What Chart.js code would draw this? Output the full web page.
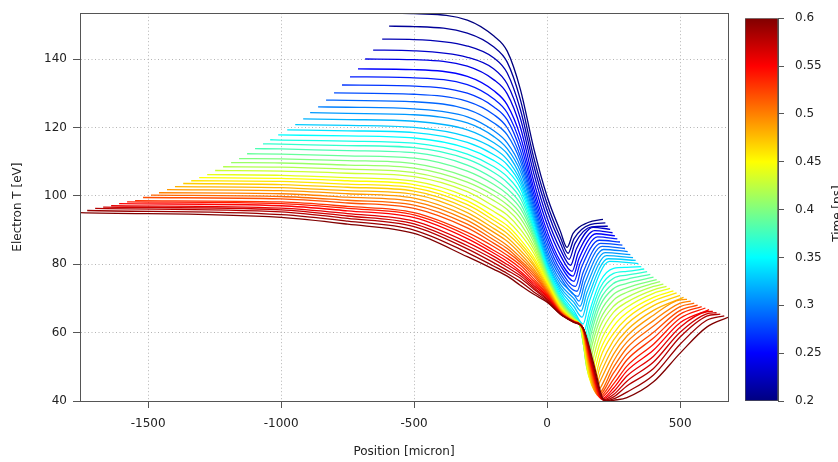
<!DOCTYPE html>
<html>
<head>
<meta charset="utf-8">
<title>Electron temperature profiles</title>
<script src="https://cdn.jsdelivr.net/npm/chart.js@4/dist/chart.umd.min.js"></script>
<style>
  html, body { margin: 0; padding: 0; background: #fff; overflow: hidden; }
  #main { position: absolute; left: 0; top: 0; }
  #bar { position: absolute; left: 730px; top: 0; }
</style>
</head>
<body>
<canvas id="main" width="838" height="462"></canvas>
<canvas id="bar" width="120" height="462"></canvas>
<script>
// Electron temperature profiles, one curve per output time, coloured by time.
const _ = null;

const times = [
  0.20, 0.21, 0.22, 0.23, 0.24, 0.25, 0.26, 0.27, 0.28, 0.29,
  0.30, 0.31, 0.32, 0.33, 0.34, 0.35, 0.36, 0.37, 0.38, 0.39,
  0.40, 0.41, 0.42, 0.43, 0.44, 0.45, 0.46, 0.47, 0.48, 0.49,
  0.50, 0.51, 0.52, 0.53, 0.54, 0.55, 0.56, 0.57, 0.58, 0.59,
  0.60,
];

// left end of each profile
const startX = [
  -564, -594, -620, -654, -684, -711, -741, -771, -801, -831,
  -861, -891, -917, -947, -977, -1011, -1041, -1068, -1098, -1128,
  -1158, -1188, -1218, -1248, -1278, -1308, -1338, -1368, -1399, -1429,
  -1459, -1489, -1519, -1549, -1579, -1609, -1639, -1669, -1699, -1729,
  -1756,
];
const startY = [
  153.4, 149.6, 145.8, 142.6, 140.0, 137.1, 134.8, 132.4, 130.1, 128.0,
  126.0, 124.3, 122.5, 120.8, 119.3, 117.8, 116.4, 115.2, 113.8, 112.3,
  110.9, 109.7, 108.5, 107.4, 106.2, 105.3, 104.4, 103.6, 102.7, 101.8,
  100.9, 100.2, 99.5, 98.6, 98.2, 97.7, 97.1, 96.7, 96.3, 95.7,
  95.1,
];

// temperature read at fixed positions (micron)
const yAtM1000 = [
  _, _, _, _, _, _, _, _, _, _,
  _, _, _, _, _, _, 116.3, 115.1, 113.7, 112.2,
  110.8, 109.6, 108.4, 107.2, 106.0, 105.1, 104.2, 103.3, 102.4, 101.5,
  100.6, 99.8, 99.1, 98.2, 97.7, 97.1, 96.4, 95.9, 95.3, 94.5,
  93.7,
];
const yAtM750 = [
  _, _, _, _, _, _, _, _, _, 127.9,
  125.9, 124.1, 122.3, 120.6, 119.0, 117.5, 116.0, 114.7, 113.2, 111.7,
  110.3, 109.0, 107.8, 106.6, 105.3, 104.4, 103.4, 102.5, 101.5, 100.6,
  99.6, 98.7, 97.9, 96.9, 96.3, 95.6, 94.8, 94.1, 93.4, 92.6,
  91.7,
];
const yAtM500 = [
  153.3, 149.5, 145.7, 142.4, 139.8, 136.9, 134.5, 132.1, 129.7, 127.5,
  125.4, 123.7, 121.8, 120.0, 118.5, 116.9, 115.4, 114.1, 112.6, 111.0,
  109.4, 108.1, 106.8, 105.6, 104.3, 103.3, 102.3, 101.4, 100.4, 99.3,
  98.3, 97.3, 96.3, 95.1, 94.4, 93.6, 92.6, 91.8, 91.0, 90.0,
  89.0,
];
const yAtM300 = [
  151.4, 147.6, 143.8, 140.5, 137.9, 134.9, 132.5, 130.0, 127.6, 125.3,
  123.1, 121.3, 119.3, 117.3, 115.6, 113.9, 112.2, 110.7, 109.0, 107.2,
  105.4, 104.0, 102.5, 101.2, 99.7, 98.5, 97.4, 96.3, 95.1, 93.9,
  92.8, 91.7, 90.6, 89.3, 88.4, 87.5, 86.4, 85.4, 84.5, 83.4,
  82.2,
];
const yAtM200 = [
  146.7, 143.5, 140.3, 137.1, 133.9, 130.7, 128.3, 126.0, 123.7, 121.3,
  119.0, 117.3, 115.5, 113.8, 112.0, 110.3, 108.5, 106.8, 105.0, 103.3,
  101.5, 100.1, 98.6, 96.9, 95.4, 93.9, 92.8, 91.6, 90.4, 89.3,
  88.1, 87.1, 86.1, 85.1, 84.0, 83.2, 82.3, 81.4, 80.4, 79.4,
  78.5,
];
const yAtM150 = [
  142.3, 139.1, 135.9, 132.7, 129.8, 126.6, 124.3, 122.2, 119.9, 117.8,
  115.5, 113.8, 112.3, 110.6, 109.1, 107.4, 105.6, 103.9, 102.1, 100.5,
  98.9, 97.4, 96.0, 94.4, 92.8, 91.3, 90.2, 89.0, 87.8, 86.7,
  85.5, 84.6, 83.6, 82.6, 81.7, 80.8, 79.9, 79.1, 78.2, 77.3,
  76.5,
];
const yAtM100 = [
  131.0, 128.0, 125.1, 122.5, 119.9, 117.3, 115.2, 113.2, 111.4, 110.0,
  108.5, 107.1, 105.6, 104.4, 103.3, 102.1, 100.6, 99.2, 97.7, 96.3,
  94.8, 93.4, 91.9, 90.2, 88.7, 87.2, 86.1, 85.2, 84.0, 83.0,
  82.0, 81.1, 80.5, 79.7, 78.8, 77.9, 77.3, 76.6, 75.9, 74.9,
  73.8,
];
const yAtM50 = [
  113.8, 111.1, 108.8, 106.5, 104.1, 102.1, 100.5, 99.0, 97.7, 96.6,
  95.5, 94.5, 93.6, 92.8, 91.9, 91.0, 90.3, 89.6, 88.8, 88.1,
  87.4, 86.4, 85.3, 84.3, 83.2, 82.0, 81.1, 80.2, 79.5, 78.6,
  77.9, 77.2, 76.5, 75.7, 75.0, 74.4, 73.8, 73.2, 72.7, 71.9,
  71.2,
];
const yAt0 = [
  99.8, 97.7, 95.7, 93.6, 91.6, 89.6, 88.1, 86.7, 85.3, 84.0,
  82.9, 82.0, 81.1, 80.4, 79.7, 79.1, 78.5, 77.9, 77.5, 77.0,
  76.7, 76.3, 75.9, 75.4, 75.0, 74.6, 74.1, 73.7, 73.2, 72.8,
  72.4, 72.0, 71.7, 71.3, 71.0, 70.6, 70.3, 69.9, 69.6, 69.2,
  68.9,
];
const yAt50 = [
  89.6, 87.8, 86.1, 84.3, 82.6, 80.8, 79.7, 78.3, 77.2, 76.2,
  75.1, 74.1, 73.2, 72.4, 71.6, 70.9, 70.3, 69.9, 69.5, 69.2,
  68.9, 68.6, 68.3, 68.0, 67.7, 67.4, 67.2, 66.9, 66.7, 66.5,
  66.3, 66.1, 66.0, 65.9, 65.8, 65.7, 65.6, 65.6, 65.5, 65.4,
  65.4,
];
const yAt100 = [
  _, _, _, _, _, _, _, _, _, _,
  71.2, 70.0, 68.9, 67.7, 66.5, 65.7, 65.1, 64.8, 64.5, 64.4,
  64.2, 64.1, 63.9, 63.8, 63.7, 63.6, 63.6, 63.5, 63.5, 63.4,
  63.3, 63.3, 63.3, 63.2, 63.2, 63.2, 63.2, 63.1, 63.1, 63.1,
  63.0,
];

// shoulder near x~130, steep drop and bottom of the dip
const shoulderX = [
  _, _, _, _, _, _, _, _, _, _,
  _, _, _, _, _, 120.2, 120.2, 122.0, 122.0, 123.9,
  123.9, 125.8, 125.8, 127.7, 127.7, 129.5, 129.5, 131.4, 131.4, 131.4,
  133.3, 133.3, 133.3, 133.3, 135.2, 135.2, 135.2, 135.2, 135.2, 135.2,
  135.2,
];
const shoulderY = [
  _, _, _, _, _, _, _, _, _, _,
  _, _, _, _, _, 63.3, 62.8, 62.5, 62.2, 62.0,
  61.9, 61.7, 61.6, 61.6, 61.4, 61.4, 61.4, 61.4, 61.4, 61.4,
  61.4, 61.4, 61.3, 61.3, 61.3, 61.3, 61.3, 61.3, 61.3, 61.3,
  61.3,
];
const dropX = [
  _, _, _, _, _, _, _, _, _, _,
  _, _, _, _, _, _, 131.4, 133.3, 135.2, 135.2,
  137.1, 138.9, 140.8, 142.7, 144.6, 146.5, 148.3, 150.2, 152.1, 154.0,
  155.9, 157.7, 159.6, 161.5, 163.4, 165.3, 167.1, 169.0, 170.9, 172.8,
  176.5,
];
const dropY = [
  _, _, _, _, _, _, _, _, _, _,
  _, _, _, _, _, _, 60.4, 59.4, 58.4, 57.3,
  56.3, 55.5, 54.6, 53.9, 53.3, 52.8, 52.6, 52.3, 52.1, 52.0,
  51.8, 51.7, 51.5, 51.4, 51.2, 51.1, 50.9, 50.8, 50.8, 50.7,
  50.5,
];
const lowX = [
  _, _, _, _, _, _, _, _, _, _,
  _, _, _, _, _, _, _, _, _, _,
  _, _, _, _, 154.0, 157.7, 161.5, 165.3, 169.0, 172.8,
  176.5, 180.3, 184.0, 187.8, 189.7, 193.5, 195.3, 199.1, 201.0, 202.9,
  206.6,
];
const lowY = [
  _, _, _, _, _, _, _, _, _, _,
  _, _, _, _, _, _, _, _, _, _,
  _, _, _, _, 48.5, 47.6, 46.7, 46.0, 45.4, 44.8,
  44.4, 43.9, 43.5, 43.1, 42.8, 42.5, 42.2, 41.9, 41.6, 41.3,
  41.2,
];
const minX = [
  75.0, 78.8, 82.5, 88.2, 93.8, 97.6, 101.3, 107.0, 112.6, 116.4,
  120.1, 123.9, 127.6, 131.4, 135.2, 138.9, 140.8, 142.7, 144.6, 146.4,
  148.3, 150.2, 154.0, 157.7, 161.5, 165.2, 169.0, 172.8, 176.5, 180.3,
  184.0, 187.8, 191.6, 195.3, 199.1, 202.8, 206.6, 210.4, 214.1, 219.7,
  225.4,
];
const minY = [
  84.9, 83.2, 81.4, 79.7, 77.9, 76.5, 75.0, 73.5, 72.1, 70.6,
  69.2, 67.7, 66.3, 64.5, 62.5, 60.4, 58.4, 56.3, 54.3, 52.6,
  50.8, 49.4, 48.2, 47.0, 46.2, 45.3, 44.4, 43.8, 43.2, 42.6,
  42.2, 41.8, 41.5, 41.2, 40.9, 40.6, 40.5, 40.3, 40.2, 40.0,
  39.9,
];

// climb out of the dip and top of the bump
const riseX = [
  97.6, 101.3, 105.1, 110.7, 116.4, 120.1, 123.9, 129.5, 135.2, 138.9,
  142.7, 146.5, 150.2, 154.0, 157.7, 157.7, 159.6, 161.5, 163.4, 165.3,
  167.1, 169.0, 172.8, 176.5, 180.3, 184.0, 187.8, _, _, _,
  _, _, _, _, _, _, _, _, _, _,
  _,
];
const riseY = [
  89.0, 87.5, 86.1, 84.6, 83.2, 81.7, 80.2, 79.1, 77.6, 76.2,
  74.7, 73.2, 71.8, 70.3, 68.9, 65.7, 64.2, 62.5, 61.0, 59.6,
  57.8, 56.3, 54.9, 53.4, 52.0, 50.5, 49.0, _, _, _,
  _, _, _, _, _, _, _, _, _, _,
  _,
];
const kneeX = [
  154.0, 161.5, 167.1, 172.8, 178.4, 184.0, 189.7, 195.3, 201.0, 206.6,
  212.3, 217.9, 223.6, 229.2, 234.8, _, _, _, _, _,
  _, _, _, _, _, _, _, _, _, _,
  _, _, _, _, _, _, _, _, _, _,
  _,
];
const kneeY = [
  92.2, 91.6, 90.9, 90.8, 89.8, 88.9, 88.0, 87.0, 86.1, 85.2,
  84.3, 83.4, 82.5, 81.6, 80.8, _, _, _, _, _,
  _, _, _, _, _, _, _, _, _, _,
  _, _, _, _, _, _, _, _, _, _,
  _,
];

const yAt200 = [
  _, _, _, _, _, _, _, _, _, _,
  _, _, _, _, _, 75.0, 73.2, 71.5, 69.7, 68.0,
  65.9, 63.9, 61.9, 59.5, 57.2, 54.9, 52.6, 50.2, 47.9, 45.9,
  43.8, _, _, _, _, _, _, _, _, _,
  _,
];
const yAt250 = [
  _, _, _, _, _, _, _, _, _, _,
  _, _, _, _, _, 78.8, 77.3, 75.9, 74.4, 72.9,
  71.2, 69.5, 67.7, 66.0, 63.9, 61.9, 59.8, 57.8, 55.8, 53.7,
  51.7, 49.9, 48.2, 46.4, 45.0, 43.8, 42.8, 41.9, 41.2, 40.6,
  40.2,
];
const yAt300 = [
  _, _, _, _, _, _, _, _, _, _,
  _, _, _, _, _, 79.1, 77.9, 76.8, 75.6, 74.4,
  73.1, 71.8, 70.3, 68.9, 67.4, 65.8, 64.2, 62.5, 60.7, 59.0,
  57.2, 55.5, 53.7, 52.0, 50.2, 48.8, 47.3, 45.8, 44.4, 42.6,
  41.0,
];
const yAt400 = [
  _, _, _, _, _, _, _, _, _, _,
  _, _, _, _, _, _, _, _, _, _,
  _, 74.4, 73.5, 72.5, 71.5, 70.3, 69.2, 67.9, 66.5, 65.1,
  63.5, 61.9, 60.1, 58.4, 56.6, 54.9, 53.1, 51.4, 49.5, 47.6,
  45.6,
];
const yAt500 = [
  _, _, _, _, _, _, _, _, _, _,
  _, _, _, _, _, _, _, _, _, _,
  _, _, _, _, _, _, _, _, _, 69.6,
  68.6, 67.6, 66.5, 65.4, 64.2, 62.9, 61.6, 60.1, 58.7, 56.6,
  54.0,
];
const yAt600 = [
  _, _, _, _, _, _, _, _, _, _,
  _, _, _, _, _, _, _, _, _, _,
  _, _, _, _, _, _, _, _, _, _,
  _, _, _, _, _, _, 66.1, 65.5, 64.8, 63.6,
  61.6,
];

// right end of each profile
const endX = [
  210, 219, 228, 237, 246, 255, 264, 274, 283, 293,
  303, 313, 323, 333, 343, 354, 365, 376, 388, 400,
  412, 425, 437, 449, 462, 475, 487, 500, 513, 526,
  540, 553, 566, 581, 595, 609, 623, 637, 651, 666,
  680,
];
const endY = [
  93.1, 92.1, 91.1, 90.2, 89.2, 88.3, 87.4, 86.5, 85.6, 84.6,
  83.7, 82.8, 81.9, 81.1, 80.2, 79.3, 78.6, 77.8, 77.0, 76.2,
  75.5, 74.9, 74.2, 73.5, 72.9, 72.2, 71.6, 70.9, 70.3, 69.7,
  69.2, 68.6, 68.0, 67.6, 67.2, 66.7, 66.2, 65.8, 65.4, 64.9,
  64.5,
];

const xTicks = [-1500, -1000, -500, 0, 500];
const yTicks = [40, 60, 80, 100, 120, 140];
const timeTicks = [0.2, 0.25, 0.3, 0.35, 0.4, 0.45, 0.5, 0.55, 0.6];

const columns = [
  [-1000, yAtM1000], [-750, yAtM750], [-500, yAtM500], [-300, yAtM300],
  [-200, yAtM200], [-150, yAtM150], [-100, yAtM100], [-50, yAtM50],
  [0, yAt0], [50, yAt50], [100, yAt100], [200, yAt200], [250, yAt250],
  [300, yAt300], [400, yAt400], [500, yAt500], [600, yAt600],
];
const features = [
  [shoulderX, shoulderY], [dropX, dropY], [lowX, lowY],
  [minX, minY], [riseX, riseY], [kneeX, kneeY],
];

function curvePoints(i) {
  const pts = [{ x: startX[i], y: startY[i] }];
  columns.forEach(([x, ys]) => {
    if (ys[i] != null) pts.push({ x, y: ys[i] });
  });
  features.forEach(([xs, ys]) => {
    if (xs[i] != null) pts.push({ x: xs[i], y: ys[i] });
  });
  pts.push({ x: endX[i], y: endY[i] });
  return pts.sort((a, b) => a.x - b.x);
}

// jet colour map, v in [0, 1]
function jet(v) {
  const c = (k) => Math.round(255 * Math.max(0, Math.min(1, 1.5 - Math.abs(4 * v - k))));
  return `rgb(${c(3)}, ${c(2)}, ${c(1)})`;
}

const tMin = timeTicks[0];
const tMax = timeTicks[timeTicks.length - 1];
const font = { family: "'DejaVu Sans', sans-serif", size: 12 };
const textColor = "#222";

const frame = {
  id: "frame",
  afterDatasetsDraw(chart) {
    const { ctx, chartArea: a } = chart;
    ctx.save();
    ctx.strokeStyle = "#555";
    ctx.lineWidth = 1;
    ctx.strokeRect(Math.round(a.left) + 0.5, Math.round(a.top) + 0.5,
      Math.round(a.right - a.left), Math.round(a.bottom - a.top));
    ctx.restore();
  },
};

function renderProfiles() {
  const datasets = times.map((t, i) => ({
    data: curvePoints(i),
    borderColor: jet((t - tMin) / (tMax - tMin)),
    borderWidth: 1.3,
    pointRadius: 0,
    fill: false,
    cubicInterpolationMode: "monotone",
    order: times.length - 1 - i,
  }));

  new Chart(document.getElementById("main"), {
    type: "line",
    data: { datasets },
    options: {
      responsive: false,
      animation: false,
      devicePixelRatio: 1,
      layout: { padding: { top: 12, right: 110, bottom: 0, left: 0 } },
      plugins: { legend: { display: false }, tooltip: { enabled: false } },
      scales: {
        x: {
          type: "linear",
          min: -1756,
          max: 680,
          afterBuildTicks: (s) => { s.ticks = xTicks.map((v) => ({ value: v })); },
          afterFit: (s) => { s.height = 61; },
          grid: { color: "#b4b4b4", tickColor: "#555", tickLength: 7 },
          border: { color: "#555", dash: [1, 2.5] },
          ticks: { font, color: textColor, padding: 9, maxRotation: 0, callback: (v) => String(v) },
          title: { display: true, text: "Position [micron]", font, color: textColor, padding: { top: 0, bottom: 3 } },
        },
        y: {
          type: "linear",
          min: 40,
          max: 153.4,
          afterBuildTicks: (s) => { s.ticks = yTicks.map((v) => ({ value: v })); },
          afterFit: (s) => { s.width = 80; },
          grid: { color: "#b4b4b4", tickColor: "#555", tickLength: 7 },
          border: { color: "#555", dash: [1, 2.5] },
          ticks: { font, color: textColor, padding: 6, callback: (v) => String(v) },
          title: { display: true, text: "Electron T [eV]", font, color: textColor, padding: { top: 11, bottom: 0 } },
        },
      },
    },
    plugins: [frame],
  });
}

const colorbarTitle = {
  id: "colorbarTitle",
  afterDraw(chart) {
    const { ctx, chartArea: a } = chart;
    ctx.save();
    ctx.translate(a.right + 60, (a.top + a.bottom) / 2 + 4);
    ctx.rotate(-Math.PI / 2);
    ctx.font = "12px 'DejaVu Sans', sans-serif";
    ctx.fillStyle = textColor;
    ctx.textAlign = "center";
    ctx.textBaseline = "middle";
    ctx.fillText("Time [ps]", 0, 0);
    ctx.restore();
  },
};

function renderColorbar() {
  new Chart(document.getElementById("bar"), {
    type: "bar",
    data: {
      labels: [""],
      datasets: [{
        data: [[tMin, tMax]],
        backgroundColor: (ctx) => {
          const { chart } = ctx;
          const a = chart.chartArea;
          if (!a) return "#888";
          const g = chart.ctx.createLinearGradient(0, a.bottom, 0, a.top);
          for (let k = 0; k <= 8; k++) g.addColorStop(k / 8, jet(k / 8));
          return g;
        },
        borderColor: "#555",
        borderWidth: 1,
        borderSkipped: false,
        barPercentage: 1,
        categoryPercentage: 1,
      }],
    },
    options: {
      responsive: false,
      animation: false,
      devicePixelRatio: 1,
      layout: { padding: { top: 12, right: 0, bottom: 61, left: 15 } },
      plugins: { legend: { display: false }, tooltip: { enabled: false } },
      scales: {
        x: { display: false },
        y: {
          position: "right",
          min: tMin,
          max: tMax,
          afterBuildTicks: (s) => { s.ticks = timeTicks.map((v) => ({ value: v })); },
          afterFit: (s) => { s.width = 72; },
          grid: { drawOnChartArea: false, tickColor: "#555", tickLength: 6 },
          border: { color: "#555" },
          ticks: { font, color: textColor, padding: 11, callback: (v) => String(+v.toFixed(2)) },
        },
      },
    },
    plugins: [colorbarTitle],
  });
}

document.addEventListener("DOMContentLoaded", () => {
  renderProfiles();
  renderColorbar();
});
</script>
</body>
</html>
